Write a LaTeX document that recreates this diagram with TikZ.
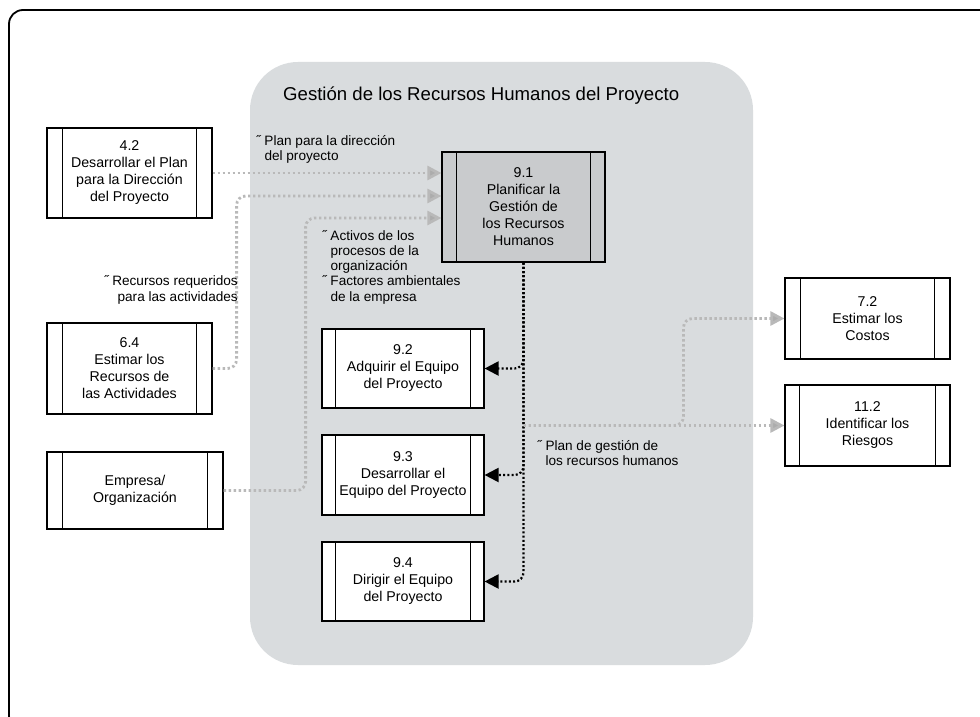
\documentclass[tikz,border=0pt]{standalone}
\usepackage{fontspec}
\setmainfont{Liberation Sans}
\usetikzlibrary{arrows.meta}
\definecolor{area}{HTML}{D9DCDE}
\definecolor{procfill}{HTML}{C9CBCD}

\begin{document}
\begin{tikzpicture}[x=1pt,y=-1pt,
  proc/.style={draw,line width=1.2pt,fill=white,align=center,inner sep=0pt,font=\fontsize{14.2}{17}\selectfont},
  note/.style={align=left,inner sep=0pt,font=\fontsize{13.6}{15.2}\selectfont},
  gry/.style={draw=gray!55,line width=2.8pt,dash pattern=on 2.4pt off 2.6pt,rounded corners=9pt,-{Triangle[length=14pt,width=14pt,fill=gray!65]}},
  blk/.style={draw=black,line width=2.2pt,dash pattern=on 2pt off 2.2pt,rounded corners=9pt,-{Triangle[length=14pt,width=14pt]}}]
\useasboundingbox (0,0) rectangle (980,717);
\clip (0,0) rectangle (980,717);
\fill[white] (0,0) rectangle (980,717);
\draw[line width=1.8pt,rounded corners=14pt] (9,10) rectangle (995,730);
\fill[area,rounded corners=48pt] (250,62) rectangle (753,665);
\node[anchor=west,inner sep=0pt,font=\fontsize{18.6}{20}\selectfont] (ttl) at (283,96) {Gestión de los Recursos Humanos del Proyecto};
% procesos
\node[proc,minimum width=165pt,minimum height=90pt] (p42) at (129.5,173) {4.2\\Desarrollar el Plan\\para la Dirección\\del Proyecto};
\node[proc,minimum width=165pt,minimum height=91pt] (p64) at (129.5,368.5) {6.4\\Estimar los\\Recursos de\\las Actividades};
\node[proc,minimum width=176pt,minimum height=77pt] (emp) at (135,490.5) {Empresa/\\Organización};
\node[proc,fill=procfill,minimum width=163pt,minimum height=110pt] (p91) at (523.5,207) {9.1\\Planificar la\\Gestión de\\los Recursos\\Humanos};
\node[proc,minimum width=162pt,minimum height=79pt] (p92) at (403,368.5) {9.2\\Adquirir el Equipo\\del Proyecto};
\node[proc,minimum width=162pt,minimum height=80pt] (p93) at (403,475) {9.3\\Desarrollar el\\Equipo del Proyecto};
\node[proc,minimum width=162pt,minimum height=79pt] (p94) at (403,581.5) {9.4\\Dirigir el Equipo\\del Proyecto};
\node[proc,minimum width=165pt,minimum height=81pt] (p72) at (867.5,318.5) {7.2\\Estimar los\\Costos};
\node[proc,minimum width=165pt,minimum height=81pt] (p112) at (867.5,425.5) {11.2\\Identificar los\\Riesgos};
\foreach \n/\b in {p42/16pt,p64/16pt,emp/16pt,p91/15pt,p92/14pt,p93/14pt,p94/14pt,p72/16pt,p112/15pt}{
  \draw[line width=1.2pt] ([xshift=\b]\n.north west) -- ([xshift=\b]\n.south west) ([xshift=-\b]\n.north east) -- ([xshift=-\b]\n.south east);}
% entradas
\draw[gry] (p42.east) -- (p42.east -| p91.west);
\draw[gry] (p64.east) -- ++(24,0) |- ([yshift=11pt]p91.west);
\draw[gry] (emp.east) -- ++(82,0) |- ([yshift=-11pt]p91.west);
% salidas
\foreach \t in {p92,p93,p94}{\draw[blk] (p91.south) |- (\t.east);}
\coordinate (br) at (p91.south |- p112.west);
\draw[gry] (br) -- (p112.west);
\draw[gry] (br) -- ++(160,0) |- (p72.west);
% etiquetas
\node[note,anchor=north west] (l1) at (256,135) {˝ Plan para la dirección\\\hphantom{˝ }del proyecto};
\node[note,align=right,anchor=east] (l2) at (238,290) {˝ Recursos requeridos\\para las actividades};
\node[note,anchor=north west] (l3) at (322,230) {˝ Activos de los\\\hphantom{˝ }procesos de la\\\hphantom{˝ }organización\\˝ Factores ambientales\\\hphantom{˝ }de la empresa};
\node[note,anchor=north west] (l4) at (537,440) {˝ Plan de gestión de\\\hphantom{˝ }los recursos humanos};
\end{tikzpicture}
\end{document}
